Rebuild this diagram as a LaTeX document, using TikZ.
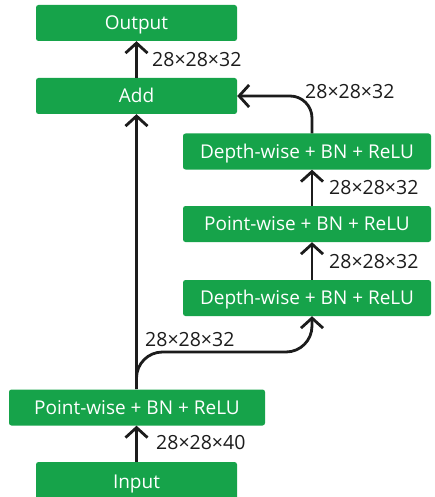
\documentclass[tikz,border=0pt]{standalone}
\usepackage{fontspec}
\setmainfont{Open Sans}
\usetikzlibrary{arrows.meta}
\definecolor{boxgreen}{HTML}{16A34A}
\definecolor{ink}{HTML}{1C1C1C}
\tikzset{
  box/.style={fill=boxgreen, rounded corners=2.5pt, text=white, inner sep=0pt,
    minimum height=36pt, text height=13.6pt, text depth=0pt, font=\fontsize{19}{22}\selectfont},
  lbl/.style={text=ink, anchor=west, inner sep=0pt, font=\fontsize{19.5}{22}\selectfont},
  arr/.style={draw=ink, line width=2.8pt, -{Straight Barb[length=10pt,width=22pt,line width=2.8pt]}},
  ln/.style={draw=ink, line width=2.8pt}
}
\begin{document}
\begin{tikzpicture}[x=1pt,y=-1pt]
\useasboundingbox (0,0) rectangle (435,497);
\clip (0,0) rectangle (435,497);
\node[box, minimum width=201pt] (out) at (136.5,23) {Output};
\node[box, minimum width=201pt] (add) at (136.5,96) {Add};
\node[box, minimum width=248pt] (dt) at (307,151.5) {Depth-wise + BN + ReLU};
\node[box, minimum width=248pt] (pm) at (307,224) {Point-wise + BN + ReLU};
\node[box, minimum width=248pt] (db) at (307,298) {Depth-wise + BN + ReLU};
\node[box, minimum width=256pt] (pb) at (137,407.5) {Point-wise + BN + ReLU};
\node[box, minimum width=201pt, minimum height=40pt, text height=13.6pt, text depth=-4pt] (inp) at (136.5,482) {Input};
\coordinate (xin) at (136.5,0);
\coordinate (xr) at (312,0);
% input -> point-wise
\draw[arr] (inp.north) -- (inp.north |- pb.south);
\node[lbl] (l1) at (156,443) {28×28×40};
% point-wise -> add
\draw[arr] (pb.north -| xin) -- (add.south);
% branch
\coordinate (bs) at (136.5,389);
\coordinate (bt) at (312,352);
\draw[arr, rounded corners=26pt] (bs) |- (bt) -- (db.south -| xr);
\node[lbl] (l2) at (145,340) {28×28×32};
% db -> pm
\draw[arr] (db.north -| xr) -- (pm.south -| xr);
\node[lbl] (l3) at (329,262) {28×28×32};
% pm -> dt
\draw[arr] (pm.north -| xr) -- (dt.south -| xr);
\node[lbl] (l4) at (329,188) {28×28×32};
% dt -> add
\draw[arr, rounded corners=22pt] (dt.north -| xr) |- (add.east);
\node[lbl] (l5) at (305,92) {28×28×32};
% add -> output
\draw[arr] (add.north) -- (out.south);
\node[lbl] (l6) at (152,60) {28×28×32};
\end{tikzpicture}
\end{document}
